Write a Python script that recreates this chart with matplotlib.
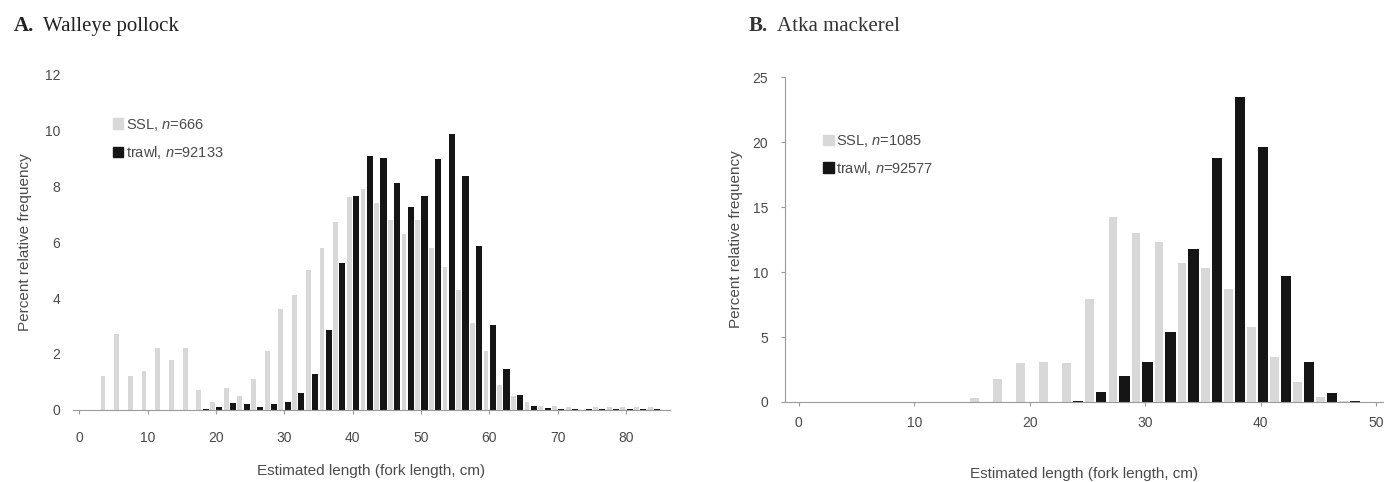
import numpy as np
import matplotlib
matplotlib.use("Agg")
import matplotlib.pyplot as plt
from matplotlib.patches import Patch

# ---------- data (percent relative frequency per 2-cm length class) -------
len_a = [2, 4, 6, 8, 10, 12, 14, 16, 18, 20, 22, 24, 26, 28, 30, 32, 34, 36,
         38, 40, 42, 44, 46, 48, 50, 52, 54, 56, 58, 60, 62, 64, 66, 68, 70,
         72, 74, 76, 78, 80, 82, 84, 86]
ssl_a = [0, 1.2, 2.7, 1.2, 1.4, 2.2, 1.8, 2.2, 0.7, 0.3, 0.8, 0.5, 1.1, 2.1,
         3.6, 4.1, 5.0, 5.8, 6.7, 7.6, 7.9, 7.4, 6.8, 6.3, 6.8, 5.8, 5.1, 4.3,
         3.1, 2.1, 0.9, 0.5, 0.3, 0.15, 0.15, 0.1, 0, 0.1, 0.1, 0.1, 0.1, 0.1,
         0]
trawl_a = [0, 0, 0, 0, 0, 0, 0, 0, 0.05, 0.1, 0.25, 0.2, 0.1, 0.2, 0.3, 0.6,
           1.3, 2.86, 5.25, 7.65, 9.07, 9.0, 8.1, 7.25, 7.65, 8.95, 9.85,
           8.35, 5.85, 3.05, 1.45, 0.55, 0.15, 0.06, 0.05, 0.04, 0.02, 0.02,
           0.02, 0.02, 0.02, 0.02, 0]

len_b = [16, 18, 20, 22, 24, 26, 28, 30, 32, 34, 36, 38, 40, 42, 44, 46, 48, 50]
ssl_b = [0.3, 1.8, 3.0, 3.1, 3.0, 7.9, 14.2, 13.0, 12.3, 10.7, 10.3, 8.7, 5.8,
         3.5, 1.5, 0.4, 0.1, 0]
trawl_b = [0, 0, 0, 0, 0.1, 0.76, 2.0, 3.05, 5.4, 11.75, 18.8, 23.5, 19.6, 9.7,
           3.05, 0.7, 0.1, 0]

n_a = ("666", "92133")
n_b = ("1085", "92577")

# ---------- style ----------------------------------------------------------
plt.rcParams.update({
    "font.family": ["Liberation Sans", "DejaVu Sans"],
    "mathtext.fontset": "custom",
    "mathtext.it": "Liberation Sans:italic",
    "mathtext.rm": "Liberation Sans",
})
GREY = "#d8d8d8"
BLACK = "#151515"
TXT = "#4a4a4a"
AX = "#9a9a9a"

fig = plt.figure(figsize=(13.95, 4.82), dpi=100)
axA = fig.add_axes([0.0523, 0.1494, 0.428, 0.697])
axB = fig.add_axes([0.5627, 0.166, 0.4287, 0.674])


def draw(ax, lengths, ssl, trawl, shift, wg, wb):
    x = np.array(lengths) + shift
    ax.bar(x - 0.5, ssl, width=wg, color=GREY, linewidth=0)
    ax.bar(x + 0.5, trawl, width=wb, color=BLACK, linewidth=0)
    for s in ("top", "right"):
        ax.spines[s].set_visible(False)
    ax.spines["bottom"].set_color(AX)
    ax.spines["left"].set_color(AX)
    ax.tick_params(colors=AX, labelcolor=TXT, labelsize=10, length=3)
    ax.set_ylabel("Percent relative frequency", fontsize=11, color=TXT)


# A. Walleye pollock
draw(axA, len_a, ssl_a, trawl_a, 0.0, 0.7, 0.9)
axA.set_xlim(-0.9, 86.4)
axA.set_ylim(0, 12)
axA.set_yticks(range(0, 13, 2))
axA.set_xticks(range(0, 81, 10))
axA.spines["left"].set_visible(False)
axA.tick_params(axis="y", length=0, pad=9)
axA.tick_params(axis="x", pad=12)
axA.set_xlabel("Estimated length (fork length, cm)", fontsize=11,
               color=TXT, labelpad=14)
axA.yaxis.set_label_coords(-0.068, 0.5)
axA.legend(handles=[Patch(color=GREY), Patch(color=BLACK)],
           labels=[f"SSL, $\\it{{n}}$={n_a[0]}",
                   f"trawl, $\\it{{n}}$={n_a[1]}"],
           loc="upper left", bbox_to_anchor=(0.055, 0.895), frameon=False,
           fontsize=10.5, handlelength=0.7, handleheight=0.7,
           handletextpad=0.2, labelspacing=0.8, borderpad=0,
           labelcolor=TXT)

# B. Atka mackerel
draw(axB, len_b, ssl_b, trawl_b, -0.3, 0.75, 0.9)
axB.set_xlim(-1.2, 50.6)
axB.set_ylim(0, 25)
axB.set_yticks(range(0, 26, 5))
axB.set_xticks(range(0, 51, 10))
axB.tick_params(axis="y", pad=9)
axB.tick_params(axis="x", pad=7)
axB.set_xlabel("Estimated length (fork length, cm)", fontsize=11,
               color=TXT, labelpad=27)
axB.yaxis.set_label_coords(-0.07, 0.5)
axB.legend(handles=[Patch(color=GREY), Patch(color=BLACK)],
           labels=[f"SSL, $\\it{{n}}$={n_b[0]}",
                   f"trawl, $\\it{{n}}$={n_b[1]}"],
           loc="upper left", bbox_to_anchor=(0.052, 0.85), frameon=False,
           fontsize=10.5, handlelength=0.7, handleheight=0.7,
           handletextpad=0.2, labelspacing=0.72, borderpad=0,
           labelcolor=TXT)

# panel titles
serif = ["Liberation Serif", "DejaVu Serif"]
fig.text(0.010, 0.935, "A.", family=serif, weight="bold", fontsize=15,
         color="#222222")
fig.text(0.031, 0.935, "Walleye pollock", family=serif, fontsize=15,
         color="#222222")
fig.text(0.537, 0.935, "B.", family=serif, weight="bold", fontsize=15,
         color="#333333")
fig.text(0.557, 0.935, "Atka mackerel", family=serif, fontsize=15,
         color="#333333")

fig.savefig("out.png", dpi=100)
